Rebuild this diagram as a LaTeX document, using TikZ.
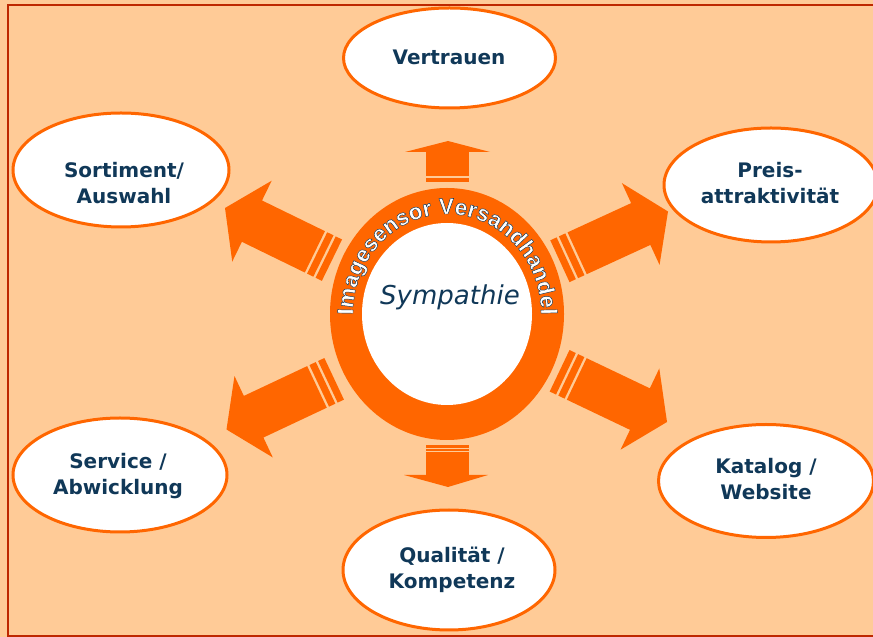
\documentclass[tikz,border=0pt]{standalone}
\usepackage{fontspec}
\setmainfont{DejaVu Sans}
\newfontfamily\lblfont{DejaVu Sans Bold}
\newfontfamily\ringfont{Liberation Sans Bold}[FakeBold=2]
\usetikzlibrary{shapes.geometric,decorations.text}
\definecolor{peach}{RGB}{255,203,151}
\definecolor{org}{RGB}{255,102,0}
\definecolor{frame}{RGB}{190,40,0}
\definecolor{txt}{RGB}{16,56,88}
\newcommand\olchar[1]{\special{pdf:bcolor [1 1 1] [0.063 0.22 0.345]}#1\special{pdf:ecolor}}
\newcommand\ringsize{\ringfont\fontsize{22.5}{22.5}\selectfont}
\tikzset{
  bubble/.style={ellipse, draw=org, line width=3pt, fill=white, inner sep=0pt},
  lbl/.style={font=\lblfont\fontsize{20}{26}\selectfont, text=txt, align=center, inner sep=0pt},
  fatarrow/.pic={
    \fill[org] (0,0) -- (-30,45) -- (-30,23) -- (-100,23) -- (-100,-23) -- (-30,-23) -- (-30,-45) -- cycle;
    \fill[org] (-102.5,-23) rectangle (-109.5,23);
    \fill[org] (-112,-23) rectangle (-119,23);
  }
}
\begin{document}
\begin{tikzpicture}[x=1pt,y=1pt]
\clip (0,0) rectangle (873,637);
\fill[peach] (0,0) rectangle (873,637);
\draw[frame, line width=2pt, fill=peach] (8,1) rectangle (885,632);

% central ring
\node[ellipse, fill=org, minimum width=234, minimum height=252, inner sep=0pt] (ring) at (447,323) {};
\node[ellipse, fill=white, minimum width=170, minimum height=182, inner sep=0pt] (core) at (447,323) {};

% ring text
\path[font=\ringsize, decorate, decoration={text effects along path,
  text={Imagesensor Versandhandel}, text align=center,
  text effects/.cd, text along path,
  characters={font=\ringsize, text=white, inner sep=0pt},
  character widths={font=\ringsize, inner sep=0pt},
  character command=\olchar}]
  ([shift={(447,323)}]186:94 and 100) arc[start angle=186, end angle=-6, x radius=94, y radius=100];

\node[font=\itshape\fontsize{26}{26}\selectfont, text=txt, inner sep=0pt] (sym) at (450,340) {Sympathie};

% vertical arrows
\fill[org] (426,455) rectangle (469,459);
\fill[org] (426,460.5) rectangle (469,485);
\fill[org] (405,485) -- (490,485) -- (448,496) -- cycle;

\fill[org] (426,192) rectangle (469,188.5);
\fill[org] (426,187.5) rectangle (469,186);
\fill[org] (426,185) rectangle (469,162);
\fill[org] (404,162) -- (488,162) -- (448,150) -- cycle;

% diagonal arrows
\coordinate (tUL) at (225,429);
\coordinate (tUR) at (668,425.5);
\coordinate (tLL) at (226.5,207.5);
\coordinate (tLR) at (667,215);
\pic[rotate=154] at (tUL) {fatarrow};
\pic[rotate=24.7] at (tUR) {fatarrow};
\pic[rotate=205.2] at (tLL) {fatarrow};
\pic[rotate=-25.5] at (tLR) {fatarrow};

% bubbles
\node[bubble, minimum width=212, minimum height=100] (eV) at (449.5,579) {};
\node[bubble, minimum width=216, minimum height=114] (eS) at (121,467) {};
\node[bubble, minimum width=214, minimum height=114] (eP) at (771,452) {};
\node[bubble, minimum width=214, minimum height=114] (eA) at (120,162) {};
\node[bubble, minimum width=215, minimum height=113] (eK) at (766,156) {};
\node[bubble, minimum width=212, minimum height=120] (eQ) at (449,67) {};

\node[lbl] (lV) at (449,580) {Vertrauen};
\node[lbl] (lS) at (124,454) {Sortiment/\\Auswahl};
\node[lbl] (lP) at (770,454) {Preis-\\attraktivität};
\node[lbl] (lA) at (118,161) {Service /\\Abwicklung};
\node[lbl] (lK) at (766,158) {Katalog /\\Website};
\node[lbl] (lQ) at (452,67.5) {Qualität /\\Kompetenz};
\end{tikzpicture}
\end{document}
